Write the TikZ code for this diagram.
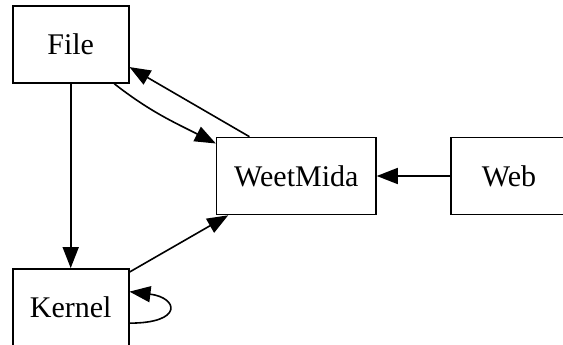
\documentclass[tikz,border=0pt]{standalone}
\usepackage{fontspec}
\setmainfont{Liberation Serif}
\usetikzlibrary{arrows.meta}
\begin{document}
\begin{tikzpicture}[x=1pt,y=1pt,
  box/.style={draw, line width=1.6pt, minimum width=116pt, minimum height=77pt, inner sep=0pt,
    font=\fontsize{30}{36}\selectfont},
  edge/.style={line width=1.6pt, -{Triangle[length=21pt,width=16pt]}}]
\useasboundingbox (0,0) rectangle (563,345);
\clip (0,0) rectangle (563,345);
\node[box] (File) at (70.7,300.5) {File};
\node[box, minimum width=159.3pt] (WeetMida) at (296.3,169) {WeetMida};
\node[box] (Web) at (509,169) {Web};
\node[box] (Kernel) at (70.7,37.6) {Kernel};
\draw[edge] (File) -- (Kernel);
\draw[edge] (File.-42) to[out=-38,in=153] (WeetMida.158);
\draw[edge] (WeetMida.140) -- (File.-21);
\draw[edge] (Web) -- (WeetMida);
\draw[edge] (Kernel.31) -- (WeetMida.210);
\draw[edge] (Kernel.-15) .. controls +(54,0) and +(49,-6) .. (Kernel.15);
\end{tikzpicture}
\end{document}
